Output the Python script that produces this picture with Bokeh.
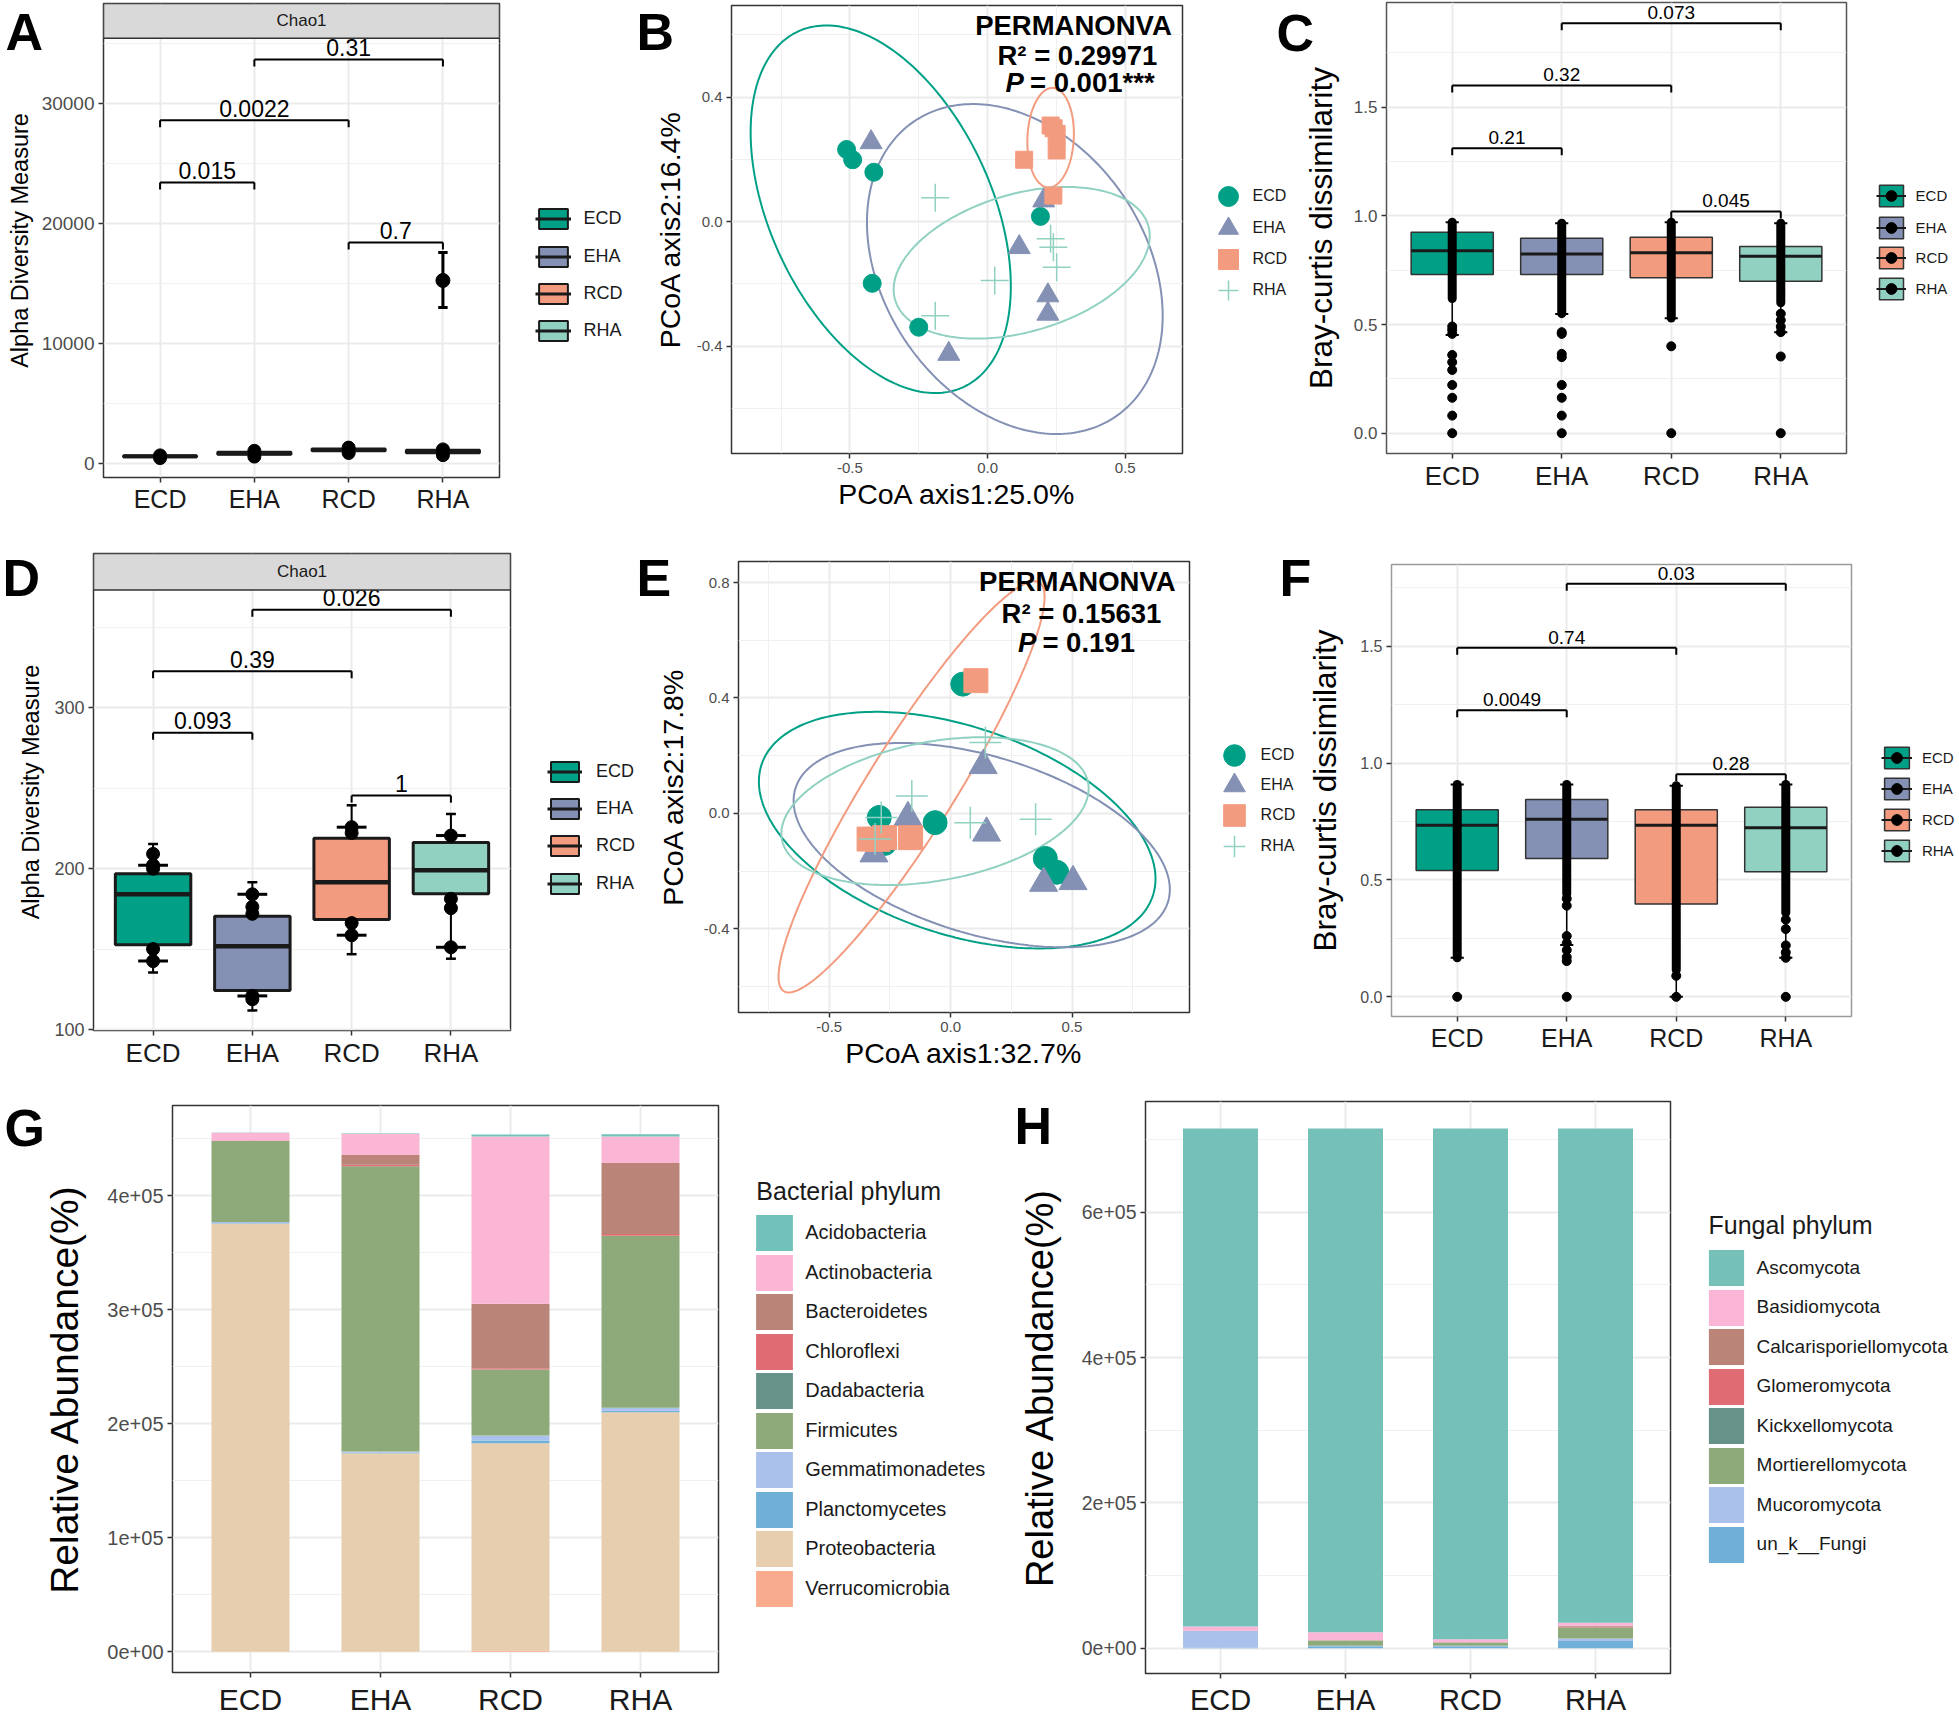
import numpy as np
from bokeh.plotting import figure
from bokeh.layouts import row, column
from bokeh.models import (Range1d, FixedTicker, Label, Legend, LegendItem,
                          ColumnDataSource, BasicTickFormatter, NumeralTickFormatter, GridBox)
from bokeh.core.properties import value
from bokeh.embed import file_html
from bokeh.resources import INLINE

FONT = "Liberation Sans"
GROUPS = ["ECD", "EHA", "RCD", "RHA"]
GROUP_COLORS = ["#00A087", "#8491B4", "#F39B7F", "#91D1C2"]
XPOS = [1, 2, 3, 4]
GPOS = dict(zip(GROUPS, XPOS))

# ====================== DATA ======================
# (A) bacterial alpha diversity (Chao1)
a_q1 = [560, 780, 1060, 900]
a_median = [620, 880, 1150, 1020]
a_q3 = [680, 980, 1250, 1150]
a_whisk_lo = [450, 560, 850, 700]
a_whisk_hi = [790, 1150, 1420, 1300]
a_pts_group = ["ECD", "ECD", "EHA", "EHA", "RCD", "RCD", "RHA", "RHA"]
a_pts_value = [480, 700, 600, 1080, 900, 1350, 720, 1200]
a_err_group = ["RHA"]
a_err_mid = [15275]
a_err_lo = [13025]
a_err_hi = [17600]
a_cmp_from = ["ECD", "ECD", "EHA", "RCD"]
a_cmp_to = ["EHA", "RCD", "RHA", "RHA"]
a_cmp_y = [23450, 28620, 33700, 18450]
a_cmp_p = ["0.015", "0.0022", "0.31", "0.7"]
a_yticks = [0, 10000, 20000, 30000]

# (B) bacterial PCoA
b_ecd_x = [-0.512, -0.490, -0.413, -0.419, -0.250, 0.192]
b_ecd_y = [0.232, 0.199, 0.159, -0.198, -0.339, 0.017]
b_eha_x = [-0.423, 0.204, 0.115, 0.219, 0.219, -0.141]
b_eha_y = [0.255, 0.068, -0.082, -0.237, -0.296, -0.425]
b_rcd_x = [0.133, 0.229, 0.251, 0.251, 0.239, 0.240]
b_rcd_y = [0.199, 0.309, 0.282, 0.229, 0.084, 0.300]
b_rha_x = [-0.190, 0.026, -0.190, 0.239, 0.251, 0.229]
b_rha_y = [0.077, -0.189, -0.302, -0.082, -0.146, -0.055]
b_ell_cx = [-0.388, 0.099, 0.229, 0.124]
b_ell_cy = [0.040, -0.152, 0.270, -0.132]
b_ell_rx = [0.4725, 0.537, 0.0845, 0.465]
b_ell_ry = [0.5905, 0.530, 0.160, 0.2435]
b_ell_rho = [-0.419, -0.283, 0.08, 0.353]
b_r2 = "R\u00b2 = 0.29971"
b_p = "= 0.001***"

# (C) bacterial Bray-Curtis
c_q1 = [0.730, 0.730, 0.715, 0.699]
c_median = [0.840, 0.825, 0.830, 0.814]
c_q3 = [0.925, 0.897, 0.902, 0.859]
c_whisk_lo = [0.452, 0.549, 0.529, 0.465]
c_whisk_hi = [0.971, 0.966, 0.971, 0.966]
c_dense_lo = [0.62, 0.55, 0.53, 0.60]
c_pts_group = (["ECD"] * 10 + ["EHA"] * 8 + ["RCD"] * 2 + ["RHA"] * 6)
c_pts_value = [0.491, 0.475, 0.457, 0.360, 0.327, 0.291, 0.222, 0.163, 0.081, 0.0,
               0.465, 0.457, 0.365, 0.350, 0.222, 0.163, 0.081, 0.0,
               0.400, 0.0,
               0.55, 0.52, 0.49, 0.465, 0.353, 0.0]
c_cmp_from = ["ECD", "ECD", "EHA", "RCD"]
c_cmp_to = ["EHA", "RCD", "RHA", "RHA"]
c_cmp_y = [1.311, 1.600, 1.887, 1.020]
c_cmp_p = ["0.21", "0.32", "0.073", "0.045"]

# (D) fungal alpha diversity (Chao1)
d_q1 = [152.7, 124.3, 168.4, 184.5]
d_median = [184.1, 151.8, 191.6, 199.1]
d_q3 = [196.8, 170.5, 218.9, 216.3]
d_whisk_lo = [135.5, 112.0, 146.9, 144.1]
d_whisk_hi = [215.3, 191.6, 239.4, 234.0]
d_pts_group = (["ECD"] * 5 + ["EHA"] * 5 + ["RCD"] * 4 + ["RHA"] * 4)
d_pts_value = [209.2, 202.2, 200.0, 150.1, 142.6,
               184.1, 176.3, 172.0, 121.0, 118.9,
               225.8, 222.2, 166.2, 158.7,
               220.6, 181.3, 175.5, 151.2]
d_cap_group = ["ECD", "ECD", "EHA", "EHA", "RCD", "RCD", "RHA", "RHA"]
d_cap_value = [202.2, 142.6, 184.1, 121.0, 225.8, 158.7, 220.6, 151.2]
d_cmp_from = ["ECD", "ECD", "EHA", "RCD"]
d_cmp_to = ["EHA", "RCD", "RHA", "RHA"]
d_cmp_y = [284.5, 322.6, 360.9, 245.4]
d_cmp_p = ["0.093", "0.39", "0.026", "1"]

# (E) fungal PCoA
e_ecd_x = [-0.294, -0.064, -0.272, 0.050, 0.390, 0.437]
e_ecd_y = [-0.014, -0.032, -0.104, 0.448, -0.156, -0.204]
e_eha_x = [-0.176, 0.148, 0.134, -0.316, 0.383, 0.504]
e_eha_y = [-0.014, -0.068, 0.166, -0.140, -0.242, -0.236]
e_rcd_x = [0.104, -0.336, -0.272, -0.165, -0.300]
e_rcd_y = [0.460, -0.089, -0.084, -0.084, -0.090]
e_rha_x = [-0.286, -0.160, -0.311, 0.081, 0.350, 0.143]
e_rha_y = [-0.014, 0.060, -0.089, -0.032, -0.020, 0.246]
e_ell_cx = [0.027, 0.128, -0.161, -0.0645]
e_ell_cy = [-0.058, -0.110, 0.092, 0.008]
e_ell_rx = [0.817, 0.775, 0.548, 0.633]
e_ell_ry = [0.410, 0.354, 0.7125, 0.256]
e_ell_rho = [-0.411, -0.434, 0.923, 0.305]
e_r2 = "R\u00b2 = 0.15631"
e_p = "= 0.191"

# (F) fungal Bray-Curtis
f_q1 = [0.540, 0.592, 0.397, 0.535]
f_median = [0.734, 0.760, 0.734, 0.723]
f_q3 = [0.800, 0.844, 0.800, 0.811]
f_whisk_lo = [0.167, 0.222, 0.0, 0.167]
f_whisk_hi = [0.908, 0.908, 0.903, 0.908]
f_dense_lo = [0.167, 0.44, 0.115, 0.36]
f_pts_group = (["ECD"] * 1 + ["EHA"] * 8 + ["RCD"] * 2 + ["RHA"] * 6)
f_pts_value = [0.0,
               0.42, 0.39, 0.26, 0.23, 0.20, 0.17, 0.153, 0.0,
               0.09, 0.0,
               0.33, 0.29, 0.22, 0.19, 0.167, 0.0]
f_cmp_from = ["ECD", "ECD", "EHA", "RCD"]
f_cmp_to = ["EHA", "RCD", "RHA", "RHA"]
f_cmp_y = [1.226, 1.493, 1.767, 0.952]
f_cmp_p = ["0.0049", "0.74", "0.03", "0.28"]

# (G) bacterial phyla (per group ECD, EHA, RCD, RHA)
g_phyla = ["Acidobacteria", "Actinobacteria", "Bacteroidetes", "Chloroflexi",
           "Dadabacteria", "Firmicutes", "Gemmatimonadetes", "Planctomycetes",
           "Proteobacteria", "Verrucomicrobia"]
g_colors = ["#72C1BA", "#FBB5D5", "#BA8478", "#DF6B73", "#679289",
            "#8EA97A", "#AAC1EB", "#6FAFD8", "#E6CEAE", "#F9AB8D"]
g_acidobacteria = [300, 300, 1800, 2000]
g_actinobacteria = [6700, 18700, 146600, 23300]
g_bacteroidetes = [0, 8500, 56700, 62300]
g_chloroflexi = [500, 1500, 1000, 1500]
g_dadabacteria = [0, 0, 0, 0]
g_firmicutes = [70900, 250100, 58000, 150900]
g_gemmatimonadetes = [1000, 1000, 4300, 2500]
g_planctomycetes = [500, 500, 2500, 1500]
g_proteobacteria = [375600, 174200, 181800, 210000]
g_verrucomicrobia = [0, 0, 1000, 0]
g_yticks = [0, 100000, 200000, 300000, 400000]
g_ylabels = ["0e+00", "1e+05", "2e+05", "3e+05", "4e+05"]

# (H) fungal phyla
h_phyla = ["Ascomycota", "Basidiomycota", "Calcarisporiellomycota", "Glomeromycota",
           "Kickxellomycota", "Mortierellomycota", "Mucoromycota", "un_k__Fungi"]
h_colors = ["#75C1BA", "#FBB5D6", "#BA8478", "#DF6B73", "#679289",
            "#8EA97A", "#AAC1EB", "#6FAFD8"]
h_ascomycota = [685700, 693500, 703000, 680500]
h_basidiomycota = [5600, 11000, 4300, 4000]
h_calcarisporiellomycota = [0, 300, 300, 1500]
h_glomeromycota = [0, 0, 0, 1000]
h_kickxellomycota = [0, 0, 0, 0]
h_mortierellomycota = [500, 7400, 4600, 15000]
h_mucoromycota = [23200, 500, 500, 3500]
h_un_k_fungi = [500, 2800, 2800, 10000]
h_yticks = [0, 200000, 400000, 600000]
h_ylabels = ["0e+00", "2e+05", "4e+05", "6e+05"]

# panel letters
letters = ["A", "B", "C", "D", "E", "F", "G", "H"]

PAGE_W, PAGE_H = 1958, 1718


# ====================== HELPERS ======================
class Panel:
    def __init__(self, W, H, fl, fr, ft, fb, xr, yr, outline="#333333"):
        self.fl, self.fr, self.ft, self.fb = fl, fr, ft, fb
        self.xr, self.yr = xr, yr
        p = figure(width=W, height=H, x_range=Range1d(*xr), y_range=Range1d(*yr),
                   output_backend="svg", toolbar_location=None,
                   min_border_left=fl, min_border_right=W - fr,
                   min_border_top=ft, min_border_bottom=H - fb)
        try:
            p.frame_align = False
        except Exception:
            pass
        p.outline_line_color = outline
        p.outline_line_width = 1.5
        p.background_fill_color = "white"
        p.border_fill_color = "white"
        for ax in (p.xaxis[0], p.yaxis[0]):
            ax.axis_line_color = None
            ax.major_tick_line_color = "#333333"
            ax.major_tick_line_width = 1.5
            ax.major_tick_out = 5
            ax.major_tick_in = 0
            ax.minor_tick_out = 0
            ax.minor_tick_in = 0
            ax.major_label_text_font = FONT
            ax.major_label_text_color = "#4D4D4D"
            ax.major_label_standoff = 4
            ax.axis_label_text_font = FONT
            ax.axis_label_text_font_style = "normal"
            ax.axis_label_text_color = "#000000"
        p.grid.grid_line_color = "#EBEBEB"
        p.grid.grid_line_width = 2
        self.p = p

    def ppu_y(self):
        return (self.fb - self.ft) / (self.yr[1] - self.yr[0])

    def data_label(self, x, y, text, size, style="bold", align="left"):
        self.p.add_layout(Label(x=x, y=y, text=text, text_font=FONT,
                                text_font_size=f"{size}px", text_font_style=style,
                                text_align=align, text_baseline="middle",
                                text_color="#000000"))

    def ytitle(self, text, size, standoff):
        ax = self.p.yaxis[0]
        ax.axis_label = text
        ax.axis_label_text_font_size = f"{size}px"
        ax.axis_label_standoff = standoff

    def xtitle(self, text, size, standoff):
        ax = self.p.xaxis[0]
        ax.axis_label = text
        ax.axis_label_text_font_size = f"{size}px"
        ax.axis_label_standoff = standoff

    def cat_x(self, size, standoff=2):
        ax = self.p.xaxis[0]
        ax.ticker = FixedTicker(ticks=XPOS)
        ax.major_label_overrides = {x: g for x, g in zip(XPOS, GROUPS)}
        ax.major_label_text_font_size = f"{size}px"
        ax.major_label_text_color = "#1A1A1A"
        ax.major_label_standoff = standoff

    def num_y(self, ticks, minor, size, labels=None, decimals=False):
        ax = self.p.yaxis[0]
        ax.ticker = FixedTicker(ticks=ticks, minor_ticks=minor)
        if decimals:
            ax.formatter = NumeralTickFormatter(format="0.0")
        else:
            ax.formatter = BasicTickFormatter(use_scientific=False)
        ax.major_label_text_font_size = f"{size}px"
        if labels is not None:
            ax.major_label_overrides = {t: l for t, l in zip(ticks, labels)}
        self.p.ygrid.minor_grid_line_color = "#F0F0F0"
        self.p.ygrid.minor_grid_line_width = 1

    def num_x(self, ticks, minor, size):
        ax = self.p.xaxis[0]
        ax.ticker = FixedTicker(ticks=ticks, minor_ticks=minor)
        ax.formatter = NumeralTickFormatter(format="0.0")
        ax.major_label_text_font_size = f"{size}px"
        self.p.xgrid.minor_grid_line_color = "#F0F0F0"
        self.p.xgrid.minor_grid_line_width = 1


def draw_boxplot(P, q1, med, q3, wlo, whi, box_w, box_lw, med_lw, whisk_lw, box_line):
    half = box_w / 2
    src = ColumnDataSource(dict(x=XPOS, q1=q1, med=med, q3=q3, wlo=wlo, whi=whi,
                                xl=[x - half for x in XPOS], xr=[x + half for x in XPOS],
                                color=GROUP_COLORS))
    P.p.segment(x0="x", y0="q3", x1="x", y1="whi", source=src, line_color="#000000",
                line_width=whisk_lw)
    P.p.segment(x0="x", y0="q1", x1="x", y1="wlo", source=src, line_color="#000000",
                line_width=whisk_lw)
    P.p.vbar(x="x", width=box_w, bottom="q1", top="q3", source=src,
             fill_color="color", line_color=box_line, line_width=box_lw)
    P.p.segment(x0="xl", y0="med", x1="xr", y1="med", source=src,
                line_color="#1A1A1A", line_width=med_lw)


def draw_caps(P, groups, vals, width, lw):
    xs = [GPOS[g] for g in groups]
    P.p.segment(x0=[x - width / 2 for x in xs], y0=vals, x1=[x + width / 2 for x in xs],
                y1=vals, line_color="#000000", line_width=lw)


def draw_brackets(P, g_from, g_to, ys, labels, tip_px, lift_px, size):
    # label centre sits lift_px above the bracket line
    tip = tip_px / P.ppu_y()
    lift = lift_px / P.ppu_y()
    x0 = [GPOS[g] for g in g_from]
    x1 = [GPOS[g] for g in g_to]
    lo = [y - tip for y in ys]
    P.p.segment(x0=x0, y0=ys, x1=x1, y1=ys, line_color="#000000", line_width=2)
    P.p.segment(x0=x0, y0=ys, x1=x0, y1=lo, line_color="#000000", line_width=2)
    P.p.segment(x0=x1, y0=ys, x1=x1, y1=lo, line_color="#000000", line_width=2)
    P.p.text(x=[(a + b) / 2 for a, b in zip(x0, x1)], y=[y + lift for y in ys], text=labels,
             text_align="center", text_baseline="middle",
             text_font=value(FONT), text_font_size=f"{size}px", text_color="#000000")


def draw_strip(P, strip_px, text):
    top = P.yr[1]
    bottom = top - strip_px / P.ppu_y()
    P.p.quad(left=[P.xr[0]], right=[P.xr[1]], bottom=[bottom], top=[top],
             fill_color="#D9D9D9", line_color="#333333", line_width=1.5)
    P.p.text(x=[(P.xr[0] + P.xr[1]) / 2], y=[(top + bottom) / 2], text=[text],
             text_align="center", text_baseline="middle", text_font=value(FONT),
             text_font_size="17px", text_color="#1A1A1A")


def draw_ellipses(P, cx, cy, rx, ry, rho):
    t = np.linspace(0, 2 * np.pi, 240)
    for i in range(4):
        xs = cx[i] + rx[i] * np.cos(t)
        ys = cy[i] + ry[i] * (rho[i] * np.cos(t) + np.sqrt(1 - rho[i] ** 2) * np.sin(t))
        P.p.line(xs, ys, line_color=GROUP_COLORS[i], line_width=2)


PCOA_MARKERS = ["circle", "triangle", "square", "cross"]


def draw_pcoa_points(P, xs_list, ys_list, sizes):
    for i in range(4):
        if PCOA_MARKERS[i] == "cross":
            P.p.scatter(xs_list[i], ys_list[i], marker="cross", size=sizes[i],
                        line_color=GROUP_COLORS[i], line_width=1.5)
        else:
            P.p.scatter(xs_list[i], ys_list[i], marker=PCOA_MARKERS[i], size=sizes[i],
                        fill_color=GROUP_COLORS[i], line_color=GROUP_COLORS[i])


# ====================== ROW 1 (y 0..520) ======================
A = Panel(638, 520, 103, 499, 3, 477, (0.4, 4.6), (-1142, 38358))
A.cat_x(25)
A.num_y(a_yticks, [5000, 15000, 25000, 35000], 19)
draw_boxplot(A, a_q1, a_median, a_q3, a_whisk_lo, a_whisk_hi, 0.78, 2.5, 4, 2, "#1A1A1A")
A.p.scatter([GPOS[g] for g in a_pts_group], a_pts_value, size=13, color="#000000")
A.p.segment(x0=[GPOS[g] for g in a_err_group], y0=a_err_lo,
            x1=[GPOS[g] for g in a_err_group], y1=a_err_hi, line_color="#000000", line_width=3)
draw_caps(A, a_err_group, a_err_lo, 0.1, 3)
draw_caps(A, a_err_group, a_err_hi, 0.1, 3)
A.p.scatter([GPOS[g] for g in a_err_group], a_err_mid, size=14, color="#000000")
draw_brackets(A, a_cmp_from, a_cmp_to, a_cmp_y, a_cmp_p, 7, 11.7, 23)
draw_strip(A, 34.7, "Chao1")
A.ytitle("Alpha Diversity Measure", 23.5, 6)

B = Panel(656, 520, 93, 544, 5, 453, (-0.930, 0.708), (-0.7447, 0.6946))
B.num_x([-0.5, 0.0, 0.5], [-0.75, -0.25, 0.25, 0.75], 15)
B.num_y([-0.4, 0.0, 0.4], [-0.6, -0.2, 0.2, 0.6], 15, decimals=True)
draw_ellipses(B, b_ell_cx, b_ell_cy, b_ell_rx, b_ell_ry, b_ell_rho)
draw_pcoa_points(B, [b_ecd_x, b_eha_x, b_rcd_x, b_rha_x],
                 [b_ecd_y, b_eha_y, b_rcd_y, b_rha_y], [18, 22, 17, 28])
B.data_label(-0.045, 0.630, "PERMANONVA", 27.5)
B.data_label(0.036, 0.534, b_r2, 27.5)
B.data_label(0.065, 0.447, "P", 27.5, style="bold italic")
B.data_label(0.154, 0.447, b_p, 27.5)
B.xtitle("PCoA axis1:25.0%", 28.5, 2)
B.ytitle("PCoA axis2:16.4%", 28.5, 8)

C = Panel(664, 520, 92, 552, 2, 453, (0.4, 4.6), (-0.0934, 1.982), outline="#555555")
C.cat_x(26)
C.num_y([0.0, 0.5, 1.0, 1.5], [0.25, 0.75, 1.25, 1.75], 17, decimals=True)
draw_boxplot(C, c_q1, c_median, c_q3, c_whisk_lo, c_whisk_hi, 0.75, 1.5, 3, 1.5, "#333333")
C.p.segment(x0=XPOS, y0=c_dense_lo, x1=XPOS, y1=c_whisk_hi, line_color="#000000",
            line_width=9, line_cap="round")
C.p.scatter([GPOS[g] for g in c_pts_group], c_pts_value, size=9, color="#000000")
draw_caps(C, GROUPS, c_whisk_hi, 0.12, 2)
draw_caps(C, GROUPS, c_whisk_lo, 0.12, 2)
draw_brackets(C, c_cmp_from, c_cmp_to, c_cmp_y, c_cmp_p, 7, 11, 19)
C.ytitle("Bray-curtis dissimilarity", 31.5, 12)

# ====================== ROW 2 (y 520..1085) ======================
D = Panel(638, 565, 93, 510, 33, 510, (0.4, 4.6), (99.5, 395.8))
D.cat_x(26)
D.num_y([100, 200, 300], [150, 250, 350], 18)
draw_boxplot(D, d_q1, d_median, d_q3, d_whisk_lo, d_whisk_hi, 0.76, 3, 4.5, 2, "#1A1A1A")
draw_caps(D, d_cap_group, d_cap_value, 0.3, 3)
draw_caps(D, GROUPS, d_whisk_hi, 0.1, 2.5)
draw_caps(D, GROUPS, d_whisk_lo, 0.1, 2.5)
D.p.scatter([GPOS[g] for g in d_pts_group], d_pts_value, size=13, color="#000000")
draw_brackets(D, d_cmp_from, d_cmp_to, d_cmp_y, d_cmp_p, 7, 12, 23)
draw_strip(D, 36.5, "Chao1")
D.ytitle("Alpha Diversity Measure", 23.5, 7)

E = Panel(656, 565, 100, 551, 41, 492, (-0.874, 0.984), (-0.690, 0.873))
E.num_x([-0.5, 0.0, 0.5], [-0.75, -0.25, 0.25, 0.75], 15)
E.num_y([-0.4, 0.0, 0.4, 0.8], [-0.6, -0.2, 0.2, 0.6], 15, decimals=True)
draw_ellipses(E, e_ell_cx, e_ell_cy, e_ell_rx, e_ell_ry, e_ell_rho)
draw_pcoa_points(E, [e_ecd_x, e_eha_x, e_rcd_x, e_rha_x],
                 [e_ecd_y, e_eha_y, e_rcd_y, e_rha_y], [24, 28, 24, 32])
E.data_label(0.117, 0.803, "PERMANONVA", 27.5)
E.data_label(0.210, 0.693, e_r2, 27.5)
E.data_label(0.277, 0.592, "P", 27.5, style="bold italic")
E.data_label(0.378, 0.592, e_p, 27.5)
E.xtitle("PCoA axis1:32.7%", 28.5, 2)
E.ytitle("PCoA axis2:17.8%", 28.5, 12)

F = Panel(664, 565, 97, 557, 44, 496, (0.4, 4.6), (-0.084, 1.849), outline="#9A9A9A")
F.cat_x(25)
F.num_y([0.0, 0.5, 1.0, 1.5], [0.25, 0.75, 1.25, 1.75], 16, decimals=True)
draw_boxplot(F, f_q1, f_median, f_q3, f_whisk_lo, f_whisk_hi, 0.75, 1.5, 3, 1.5, "#333333")
F.p.segment(x0=XPOS, y0=f_dense_lo, x1=XPOS, y1=f_whisk_hi, line_color="#000000",
            line_width=9, line_cap="round")
F.p.scatter([GPOS[g] for g in f_pts_group], f_pts_value, size=9, color="#000000")
draw_caps(F, GROUPS, f_whisk_hi, 0.12, 2)
draw_caps(F, GROUPS, f_whisk_lo, 0.12, 2)
draw_brackets(F, f_cmp_from, f_cmp_to, f_cmp_y, f_cmp_p, 7, 10.6, 19)
F.ytitle("Bray-curtis dissimilarity", 31.5, 14)

# ====================== ROW 3 (y 1085..1718) ======================
G = Panel(1000, 633, 172, 718, 20, 589, (0.4, 4.6), (-18200, 479200))
G.cat_x(30, 5)
G.num_y(g_yticks, [50000, 150000, 250000, 350000, 450000], 20, g_ylabels)
g_series = [g_acidobacteria, g_actinobacteria, g_bacteroidetes, g_chloroflexi,
            g_dadabacteria, g_firmicutes, g_gemmatimonadetes, g_planctomycetes,
            g_proteobacteria, g_verrucomicrobia]
g_src = ColumnDataSource(dict(x=XPOS, **{n: v for n, v in zip(g_phyla, g_series)}))
G.p.vbar_stack(list(reversed(g_phyla)), x="x", width=0.6, source=g_src,
               fill_color=list(reversed(g_colors)), line_color=None)
G.ytitle("Relative Abundance(%)", 39, 18)

H = Panel(958, 633, 145, 670, 16, 589, (0.4, 4.6), (-34800, 752500))
H.cat_x(29, 5)
H.num_y(h_yticks, [100000, 300000, 500000, 700000], 19.5, h_ylabels)
h_series = [h_ascomycota, h_basidiomycota, h_calcarisporiellomycota, h_glomeromycota,
            h_kickxellomycota, h_mortierellomycota, h_mucoromycota, h_un_k_fungi]
h_src = ColumnDataSource(dict(x=XPOS, **{n: v for n, v in zip(h_phyla, h_series)}))
H.p.vbar_stack(list(reversed(h_phyla)), x="x", width=0.6, source=h_src,
               fill_color=list(reversed(h_colors)), line_color=None)
H.ytitle("Relative Abundance(%)", 38, 18)

main = column(row(A.p, B.p, C.p), row(D.p, E.p, F.p), row(G.p, H.p))

# ====================== OVERLAY (letters, legends; page pixel coordinates) ======================
ov = figure(width=PAGE_W, height=PAGE_H, x_range=Range1d(0, PAGE_W),
            y_range=Range1d(PAGE_H, 0), output_backend="svg", toolbar_location=None,
            x_axis_type=None, y_axis_type=None, min_border=0)
try:
    ov.frame_align = False
except Exception:
    pass
ov.background_fill_color = None
ov.border_fill_color = None
ov.outline_line_color = None
ov.grid.visible = False

letter_x = [5, 636, 1276, 2, 636, 1279, 4, 1014]
letter_y = [31, 31, 32, 577, 577, 577, 1127, 1125]
ov.text(x=letter_x, y=letter_y, text=letters, text_font=value(FONT),
        text_font_size="52px", text_font_style="bold", text_color="#000000",
        text_align="left", text_baseline="middle")

NAN = np.array([np.nan])


def key_box(color, line_color, lw):
    return ov.vbar(x=NAN, top=NAN, bottom=NAN, width=1, fill_color=color,
                   line_color=line_color, line_width=lw)


def key_line(lw):
    return ov.segment(x0=NAN, y0=NAN, x1=NAN, y1=NAN, line_color="#1A1A1A", line_width=lw)


def key_dot():
    return ov.scatter(x=NAN, y=NAN, marker="circle", size=8, color="#000000")


def key_marker(i):
    if PCOA_MARKERS[i] == "cross":
        return ov.scatter(x=NAN, y=NAN, marker="cross", size=10,
                          line_color=GROUP_COLORS[i], line_width=1.5)
    return ov.scatter(x=NAN, y=NAN, marker=PCOA_MARKERS[i], size=10,
                      fill_color=GROUP_COLORS[i], line_color=GROUP_COLORS[i])


def key_legend(labels, renderer_lists, glyph_left, centers, gw, gh, standoff, size):
    for lab, rends, cy in zip(labels, renderer_lists, centers):
        lg = Legend(items=[LegendItem(label=lab, renderers=rends)],
                    location=(glyph_left, PAGE_H - (cy + gh / 2)),
                    orientation="vertical", glyph_width=gw, glyph_height=gh,
                    spacing=0, padding=0, margin=0, label_standoff=standoff,
                    label_height=8, label_text_font=FONT,
                    label_text_font_size=f"{size}px", label_text_color="#1A1A1A",
                    background_fill_alpha=0, border_line_color=None)
        ov.add_layout(lg)


# A and D: boxplot keys
key_legend(GROUPS, [[key_box(c, "#1A1A1A", 2), key_line(3)] for c in GROUP_COLORS],
           535.4, [218, 256, 293, 330], 36, 25, 12, 18)
key_legend(GROUPS, [[key_box(c, "#1A1A1A", 2), key_line(3)] for c in GROUP_COLORS],
           547, [771, 808, 845, 883], 35, 25, 14, 18)
# B and E: point keys
key_legend(GROUPS, [[key_marker(i)] for i in range(4)],
           1202.5, [196, 228, 259, 290], 50, 50, 0, 16)
key_legend(GROUPS, [[key_marker(i)] for i in range(4)],
           1206.6, [754.6, 784.8, 815.2, 846.4], 54, 54, 0, 16)
# C and F: box + dot keys
key_legend(GROUPS, [[key_box(c, "#333333", 1.5), key_line(2), key_dot()] for c in GROUP_COLORS],
           1875.6, [195, 227, 257, 288], 30, 27, 10, 15)
key_legend(GROUPS, [[key_box(c, "#333333", 1.5), key_line(2), key_dot()] for c in GROUP_COLORS],
           1880.9, [757, 788.6, 819.7, 850.9], 31, 27, 10, 15)
# G and H: fill keys with titles
g_centers = [1232.5 + 39.55 * k for k in range(len(g_phyla))]
key_legend(g_phyla, [[key_box(c, None, 0)] for c in g_colors], 751.2, g_centers, 46, 45, 8, 20)
h_centers = [1267.8 + 39.5 * k for k in range(len(h_phyla))]
key_legend(h_phyla, [[key_box(c, None, 0)] for c in h_colors], 1703.6, h_centers, 44, 45, 9, 19)
ov.text(x=[755.8, 1708], y=[1190, 1224.3], text=["Bacterial phylum", "Fungal phylum"],
        text_font=value(FONT), text_font_size="25px", text_color="#1A1A1A",
        text_align="left", text_baseline="middle")

page = GridBox(children=[(main, 0, 0), (ov, 0, 0)])
open("out.html", "w").write(file_html(page, INLINE))
